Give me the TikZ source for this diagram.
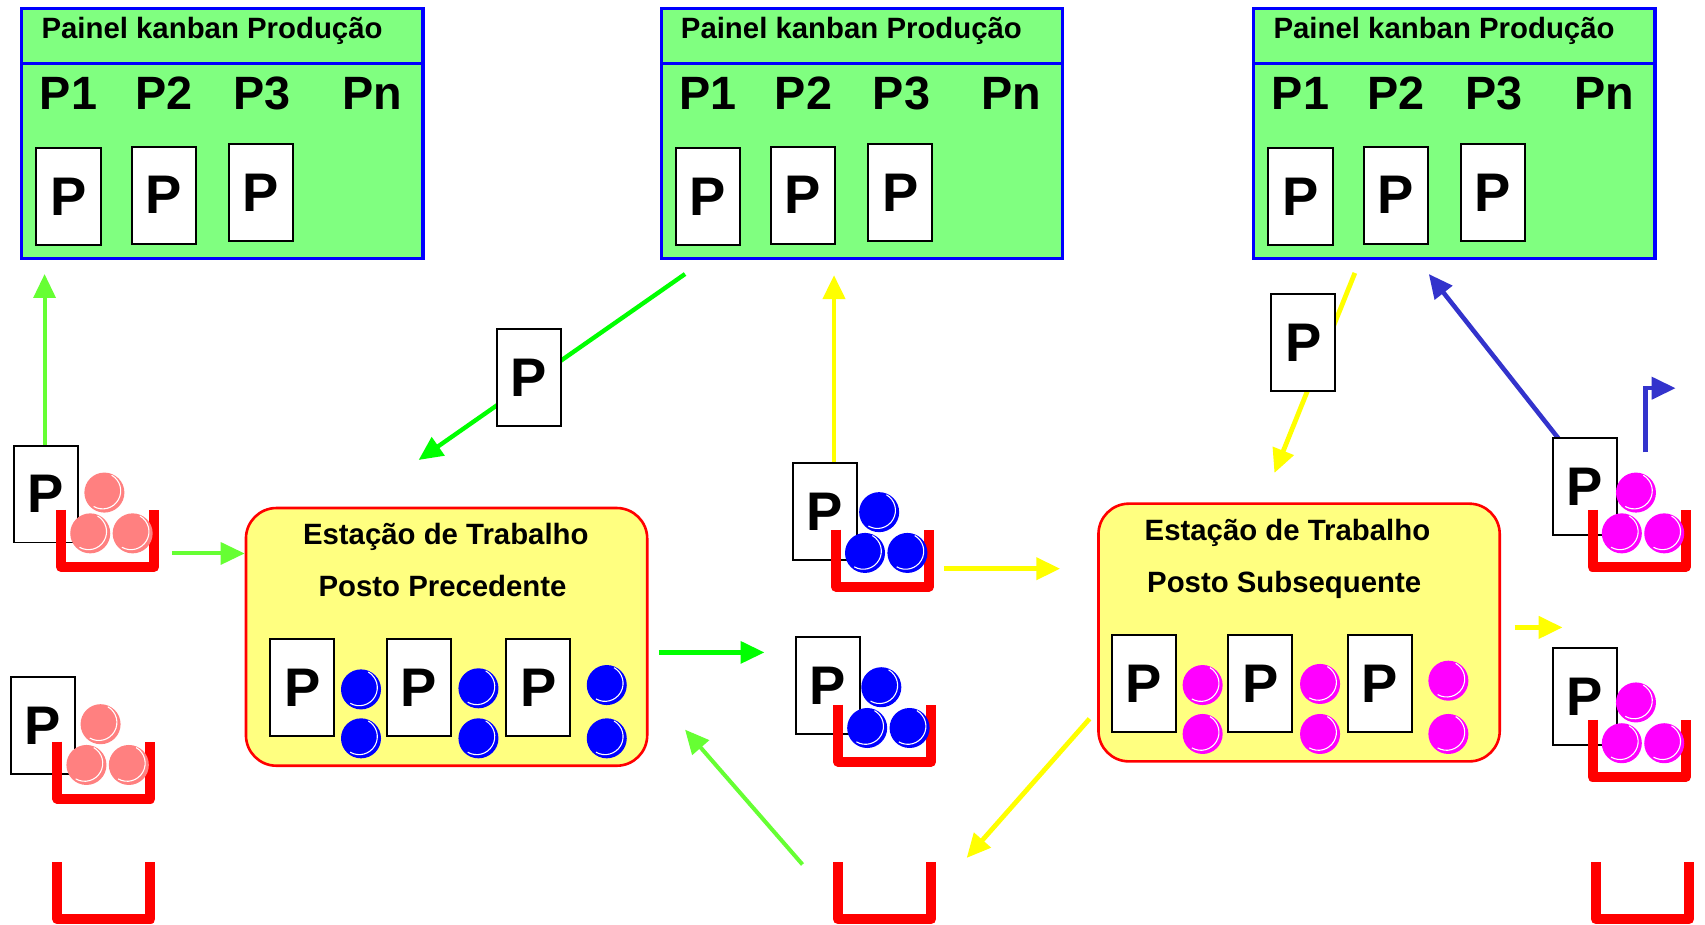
\documentclass[tikz,border=0pt]{standalone}
\usepackage{fontspec}
\setmainfont{Liberation Sans}
\usepackage{xcolor}
\usetikzlibrary{arrows.meta}
\definecolor{panelgreen}{HTML}{80FF80}
\definecolor{stationyellow}{HTML}{FFFF80}
\definecolor{salmon}{HTML}{FF8080}
\definecolor{lightgreen}{HTML}{66FF33}
\definecolor{brightgreen}{HTML}{00FF00}
\definecolor{flowyellow}{HTML}{FFFF00}
\definecolor{pink}{HTML}{FF00FF}
\definecolor{ballblue}{HTML}{0000FF}
\definecolor{arrowblue}{HTML}{3333CC}

\begin{document}
\begin{tikzpicture}[x=0.5pt, y=-0.5pt,
    panel/.style={draw=ballblue, fill=panelgreen, line width=1.4pt, minimum width=184.5pt, inner sep=0pt},
    paneltitle/.style={anchor=base, font=\bfseries\fontsize{13.5}{13.5}\selectfont},
    slot/.style={anchor=base, font=\bfseries\fontsize{21.5}{21.5}\selectfont},
    card/.style={draw, fill=white, line width=0.9pt, minimum width=29.5pt, minimum height=44.5pt, inner sep=0pt, font=\bfseries\fontsize{25}{25}\selectfont},
    station/.style={draw=red, fill=stationyellow, line width=1.2pt, rounded corners=14pt, minimum width=184.5pt, minimum height=118.5pt},
    stlabel/.style={anchor=base, font=\bfseries\fontsize{13.5}{13.5}\selectfont},
    ball/.style={circle, minimum size=18.4pt, inner sep=0pt,
        path picture={\draw[white, line width=0.5pt] ([shift={(-0.8pt,0.8pt)}]path picture bounding box.center) ++(60:8.3pt) arc (60:-120:8.3pt);}},
    basket/.style={draw=red, line width=4.6pt, line join=round},
    tip/.style={-{Triangle[length=11pt,width=10pt]}},
    garrow/.style={tip, draw=lightgreen, line width=1.85pt},
    ggarrow/.style={tip, draw=brightgreen, line width=2pt},
    yarrow/.style={tip, draw=flowyellow, line width=2.2pt},
    barrow/.style={tip, draw=arrowblue, line width=2.1pt}]

    \fill[white] (0,0) rectangle (1568,850);
    \useasboundingbox (0,0) rectangle (1568,850);

    % kanban panels
    \foreach \i/\px in {1/20, 2/608, 3/1153} {
        \node[panel, minimum height=25pt] (head\i) at (\px+184.5, 33) {};
        \node[panel, minimum height=90pt] (body\i) at (\px+184.5, 148) {};
        \node[paneltitle] (title\i) at (\px+175, 35) {Painel kanban Produção};
        \foreach \l/\dx in {P1/43, P2/131, P3/221, Pn/322}
            \node[slot] (slot\i\l) at (\px+\dx, 101) {\l};
        \foreach \dx/\cy [count=\k] in {43/181, 130.5/179.5, 220/177}
            \node[card] (pcard\i\k) at (\px+\dx, \cy) {P};
    }

    % work stations
    \foreach \s/\x/\y/\dx/\c/\txt in {1/225/466/0/ballblue/Posto Precedente, 2/1009/462/-10/pink/Posto Subsequente} {
        \node[station, anchor=north west] (st\s) at (\x,\y) {};
        \node[stlabel] (st\s-a) at (\x+185+\dx, \y+35) {Estação de Trabalho};
        \node[stlabel] (st\s-b) at (\x+182+\dx, \y+83) {\txt};
        \foreach \kx/\bx/\by [count=\k] in {53/107/168, 160/215/167, 270/333/164} {
            \node[card] (st\s card\k) at (\x+\kx+\dx, \y+166.5) {P};
            \node[ball, fill=\c] (st\s up\k) at (\x+\bx+\dx, \y+\by) {};
            \node[ball, fill=\c] (st\s low\k) at (\x+\bx+\dx, \y+213) {};
        }
    }

    % arrow ends
    \coordinate (upA) at (41,252);
    \coordinate (inA) at (158,509);
    \coordinate (kbA) at (630,252);
    \coordinate (kbAend) at (385,423);
    \coordinate (outA) at (606,600);
    \coordinate (toC) at (703,600);
    \coordinate (backA) at (738,795);
    \coordinate (backAend) at (630,671);
    \coordinate (upB) at (767,425);
    \coordinate (upBend) at (767,253);
    \coordinate (inB) at (868,523);
    \coordinate (inBend) at (975,523);
    \coordinate (kbB) at (1246,251);
    \coordinate (kbBend) at (1172,435);
    \coordinate (outB) at (1393,577);
    \coordinate (toF) at (1437,577);
    \coordinate (backB) at (1002,661);
    \coordinate (backBend) at (889,789);
    \coordinate (upE) at (1437,408);
    \coordinate (upEend) at (1314,252);
    \coordinate (nextE) at (1513,416);
    \coordinate (nextEend) at (1541,357);

    \draw[garrow] (upA |- 0,409) -- (upA);
    \draw[garrow] (inA) -- (st1.west |- inA);
    \draw[ggarrow] (kbA) -- (kbAend);
    \draw[ggarrow] (outA) -- (toC);
    \draw[garrow] (backA) -- (backAend);
    \draw[yarrow] (upB) -- (upBend);
    \draw[yarrow] (inB) -- (inBend);
    \draw[yarrow] (kbB) -- (kbBend);
    \draw[yarrow] (outB) -- (toF);
    \draw[yarrow] (backB) -- (backBend);
    \draw[barrow] (upE) -- (upEend);
    \draw[barrow] (nextE) |- (nextEend);

    % cards travelling back to the panels
    \node[card] (kfA) at (486.5,347) {P};
    \node[card] (kfB) at (1198.5,315) {P};

    % containers with their cards
    \foreach \n/\cx/\cy/\bx/\by/\c in {a/12/409/51.5/469/salmon, b/9/622/48/682/salmon,
                                     c/728/425/764/487/ballblue, d/731/585/766/648/ballblue,
                                     e/1427/402/1460/469/pink, f/1427/595/1460/662/pink} {
        \node[card, anchor=north west] (card\n) at (\cx,\cy) {P};
        \draw[basket] (\bx+4.6,\by) -- ++(0,52.4) -- ++(85.8,0) -- ++(0,-52.4);
        \foreach \dx/\dy [count=\k] in {44.5/-16, 31.5/21.5, 70.5/21.5}
            \node[ball, fill=\c] (ball\n\k) at (\bx+\dx,\by+\dy) {};
    }

    % empty containers
    \foreach \bx in {48, 766, 1463}
        \draw[basket] (\bx+4.6,793) -- ++(0,52.4) -- ++(85.8,0) -- ++(0,-52.4);

\end{tikzpicture}
\end{document}
